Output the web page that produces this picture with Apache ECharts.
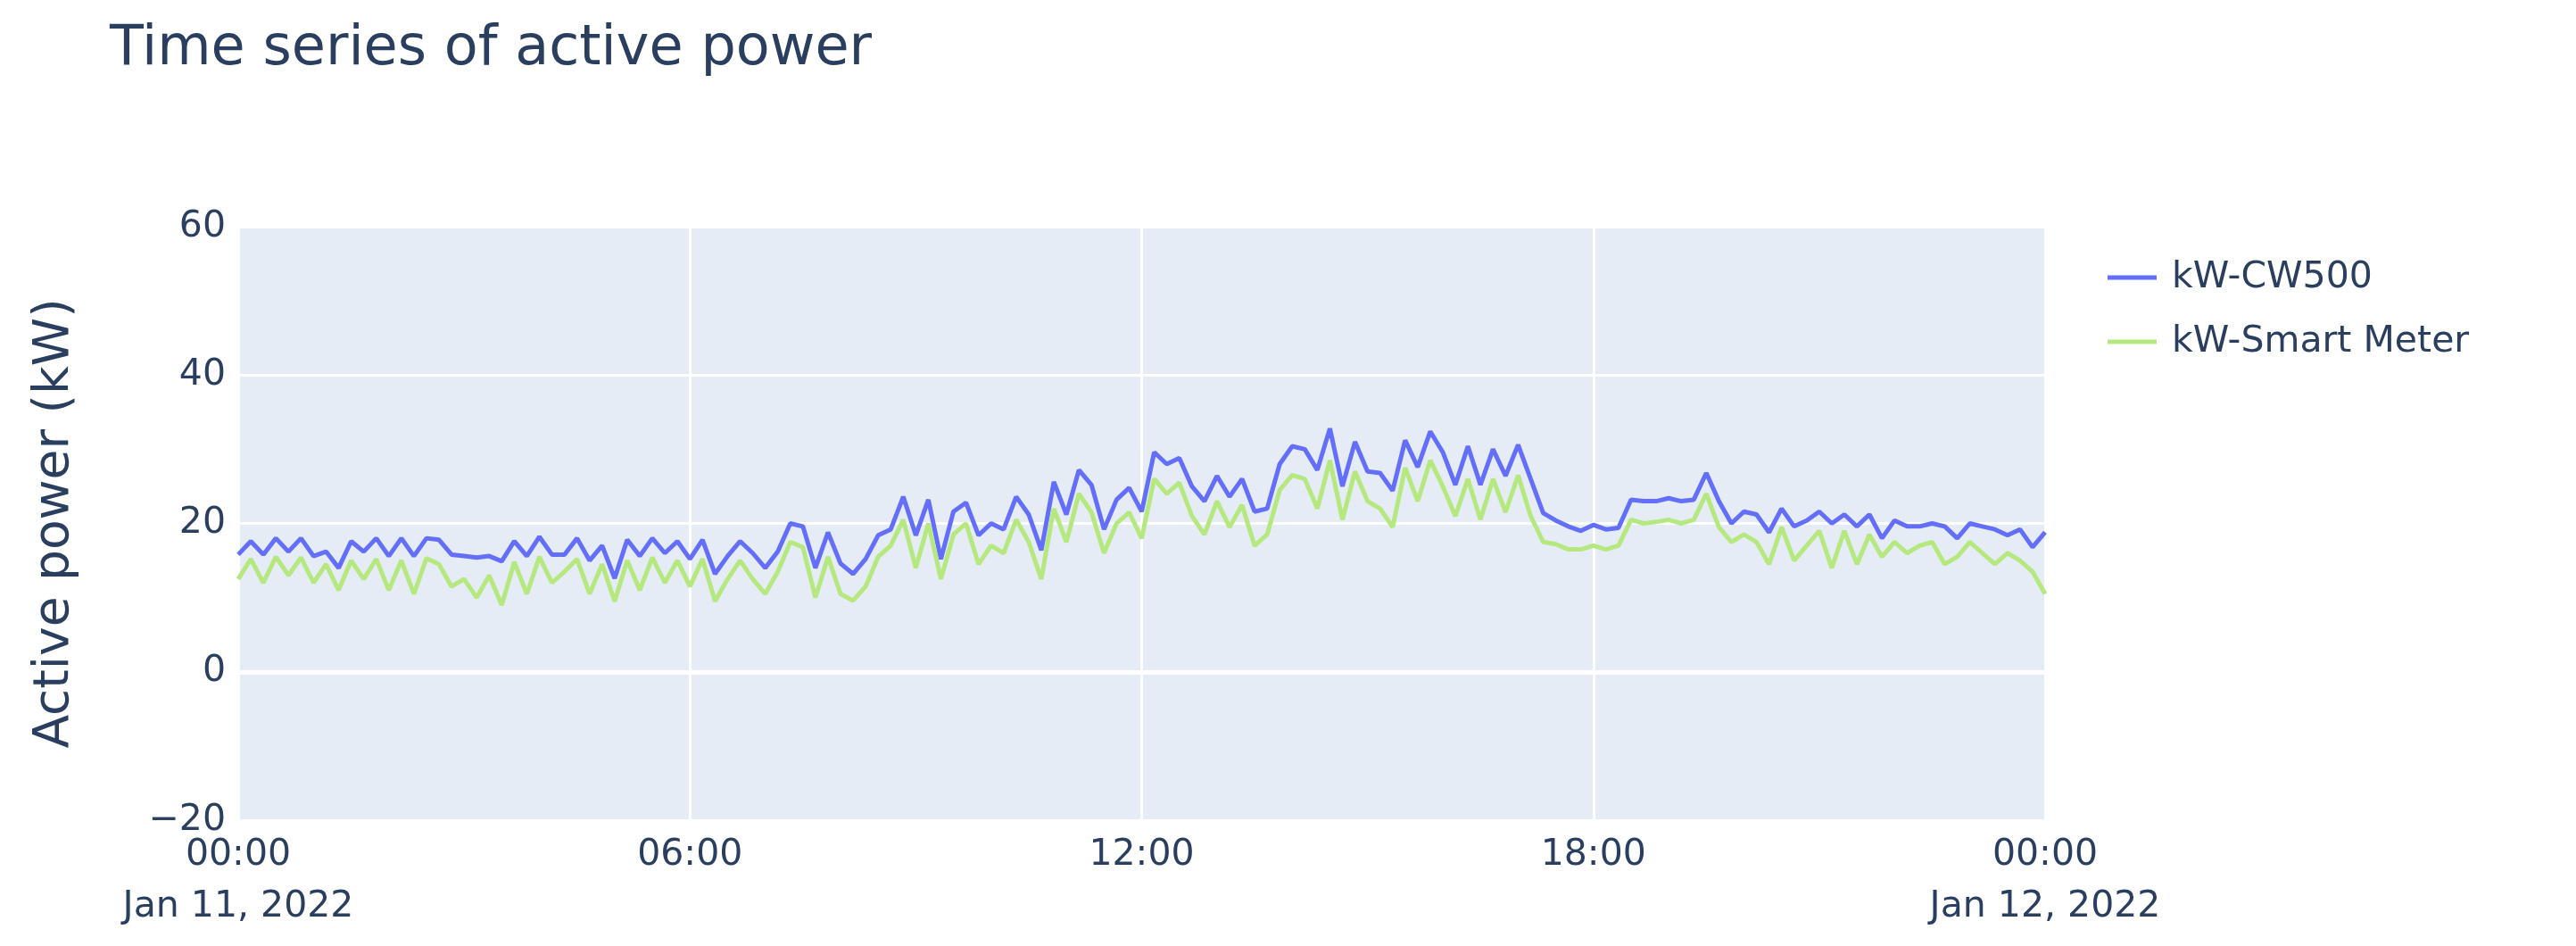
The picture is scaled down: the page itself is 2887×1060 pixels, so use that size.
<!DOCTYPE html>
<html>
<head>
<meta charset="utf-8">
<title>Time series of active power</title>
<script src="https://cdn.jsdelivr.net/npm/echarts@6/dist/echarts.min.js"></script>
<style>
  html, body { margin: 0; padding: 0; background: #fff; }
  #chart { width: 2887px; height: 1060px; }
</style>
</head>
<body>
<div id="chart"></div>
<script>
// 10-minute readings, 2022-01-11 00:00 .. 2022-01-12 00:00
const startDay = 'Jan 11, 2022'
const endDay = 'Jan 12, 2022'
const times = []
for (let m = 0; m <= 24 * 60; m += 10) {
  const h = String(Math.floor(m / 60) % 24).padStart(2, '0')
  const mm = String(m % 60).padStart(2, '0')
  times.push(h + ':' + mm)
}

const kwCW500 = [
  15.8, 17.6, 15.8, 18, 16.2, 18, 15.6, 16.2, 14, 17.6, 16.2, 18,
  15.6, 18, 15.6, 18, 17.8, 15.8, 15.6, 15.4, 15.6, 14.9, 17.6, 15.6,
  18.2, 15.8, 15.8, 18, 15, 17, 12.6, 17.8, 15.6, 18, 16, 17.6,
  15.2, 17.8, 13.2, 15.6, 17.6, 16, 14, 16.2, 20, 19.6, 14, 18.8,
  14.6, 13.2, 15.2, 18.4, 19.2, 23.6, 18.4, 23.2, 15.2, 21.6, 22.8, 18.4,
  20, 19.2, 23.6, 21.2, 16.4, 25.6, 21.2, 27.2, 25.2, 19.2, 23.2, 24.8,
  21.6, 29.6, 28, 28.8, 25, 23, 26.4, 23.6, 26, 21.6, 22, 28,
  30.4, 30, 27.2, 32.8, 25, 31, 27, 26.8, 24.4, 31.2, 27.6, 32.4,
  29.6, 25.2, 30.4, 25.2, 30, 26.4, 30.6, 26, 21.4, 20.4, 19.6, 19,
  19.8, 19.2, 19.4, 23.2, 23, 23, 23.4, 23, 23.2, 26.8, 23, 20,
  21.6, 21.2, 18.8, 22, 19.6, 20.4, 21.6, 20, 21.2, 19.6, 21.2, 18,
  20.4, 19.6, 19.6, 20, 19.6, 18, 20, 19.6, 19.2, 18.4, 19.2, 16.8,
  18.8
]

const kwSmartMeter = [
  12.5, 15.2, 12, 15.5, 13, 15.4, 12, 14.5, 11, 15, 12.5, 15.2,
  11, 15, 10.5, 15.3, 14.5, 11.5, 12.5, 10, 13, 9, 14.8, 10.5,
  15.5, 12, 13.5, 15.2, 10.5, 14.5, 9.5, 15, 11, 15.4, 12, 15,
  11.5, 15.2, 9.5, 12.5, 15, 12.5, 10.5, 13.5, 17.5, 16.8, 10, 15.5,
  10.5, 9.6, 11.5, 15.5, 17, 20.5, 14, 20, 12.5, 18.5, 20, 14.5,
  17, 16, 20.5, 17.5, 12.5, 22, 17.5, 24, 21.5, 16, 20, 21.5,
  18, 26, 24, 25.5, 21, 18.5, 23, 19.5, 22.5, 17, 18.5, 24.5,
  26.5, 26, 22, 28.5, 20.5, 27, 23, 22, 19.5, 27.5, 23, 28.5,
  25, 21, 26, 20.5, 26, 21.5, 26.5, 21, 17.5, 17.2, 16.5, 16.5,
  17, 16.5, 17, 20.5, 20, 20.2, 20.5, 20, 20.5, 24, 19.5, 17.5,
  18.5, 17.5, 14.5, 19.5, 15, 17, 19, 14, 19, 14.5, 18.5, 15.5,
  17.5, 16, 17, 17.5, 14.5, 15.5, 17.5, 16, 14.5, 16, 15, 13.5,
  10.5
]

const yTicks = [-20, 0, 20, 40, 60]
const seriesNames = ['kW-CW500', 'kW-Smart Meter']
const colorList = ['#636EFA', '#B6E880']

const textColor = '#2a3f5f'
const fontFamily = 'DejaVu Sans'

let myChart = echarts.init(document.getElementById('chart'))

const option = {
  animation: false,
  backgroundColor: '#fff',
  title: {
    text: 'Time series of active power',
    left: 118,
    top: 20,
    textStyle: {
      color: textColor,
      fontFamily: fontFamily,
      fontSize: 62,
      fontWeight: 'normal'
    }
  },
  legend: {
    orient: 'vertical',
    left: 2357,
    top: 282,
    icon: 'rect',
    itemWidth: 55,
    itemHeight: 5,
    itemGap: 24,
    data: seriesNames,
    textStyle: {
      color: textColor,
      fontFamily: fontFamily,
      fontSize: 41,
      lineHeight: 48,
      padding: [0, 0, 0, 12]
    }
  },
  grid: {
    left: 267,
    right: 595,
    top: 254,
    bottom: 141,
    show: true,
    backgroundColor: '#E5ECF6',
    borderWidth: 0
  },
  xAxis: {
    type: 'category',
    data: times,
    boundaryGap: false,
    axisLine: { show: false },
    axisTick: { show: false },
    axisLabel: {
      interval: 35,
      color: textColor,
      fontFamily: fontFamily,
      fontSize: 41,
      lineHeight: 58,
      margin: 10,
      formatter: (value, index) => {
        if (index === 0) return value + '\n' + startDay
        if (index === times.length - 1) return value + '\n' + endDay
        return value
      }
    },
    splitLine: {
      show: true,
      interval: 35,
      lineStyle: { color: '#ffffff', width: 3 }
    }
  },
  yAxis: {
    type: 'value',
    min: yTicks[0],
    max: yTicks[yTicks.length - 1],
    interval: 20,
    name: 'Active power (kW)',
    nameLocation: 'middle',
    nameRotate: 90,
    nameGap: 178,
    nameTextStyle: {
      color: textColor,
      fontFamily: fontFamily,
      fontSize: 55
    },
    axisLine: { show: false },
    axisTick: { show: false },
    axisLabel: {
      color: textColor,
      fontFamily: fontFamily,
      fontSize: 41,
      margin: 14,
      formatter: (v) => (v < 0 ? '\u2212' + Math.abs(v) : String(v))
    },
    splitLine: {
      lineStyle: { color: '#ffffff', width: 3 }
    }
  },
  series: [
    {
      name: seriesNames[0],
      type: 'line',
      data: kwCW500,
      symbol: 'none',
      lineStyle: { color: colorList[0], width: 5 },
      itemStyle: { color: colorList[0] },
      markLine: {
        silent: true,
        symbol: 'none',
        label: { show: false },
        lineStyle: { color: '#ffffff', width: 5, type: 'solid' },
        data: [{ yAxis: 0 }]
      },
      z: 2
    },
    {
      name: seriesNames[1],
      type: 'line',
      data: kwSmartMeter,
      symbol: 'none',
      lineStyle: { color: colorList[1], width: 5 },
      itemStyle: { color: colorList[1] },
      z: 3
    }
  ]
}

myChart.setOption(option)
</script>
</body>
</html>
